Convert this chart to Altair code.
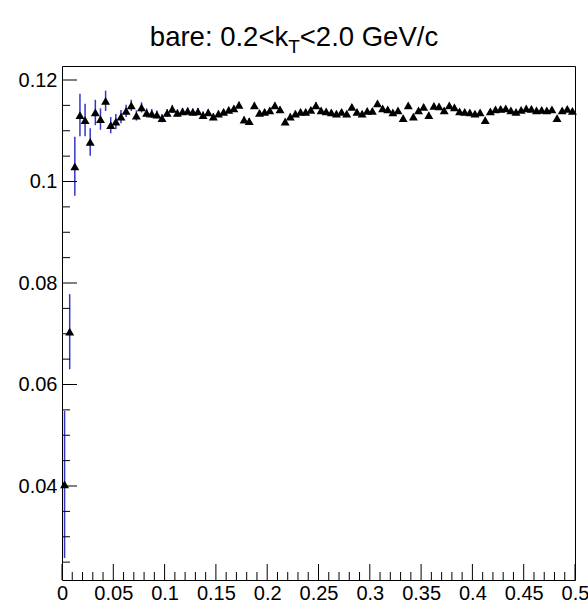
import altair as alt
import pandas as pd

# Histogram binning: 100 bins on [0, 0.5]
n_bins = 100
x_lo, x_hi = 0.0, 0.5
bin_width = (x_hi - x_lo) / n_bins
bin_center = [x_lo + (i + 0.5) * bin_width for i in range(n_bins)]

# Bin contents
value = [
    0.0403, 0.0704, 0.1030, 0.1131, 0.1121, 0.1078, 0.1136, 0.1123, 0.1159, 0.1111,
    0.1118, 0.1128, 0.1139, 0.1150, 0.1130, 0.1146, 0.1135, 0.1134, 0.1132, 0.1125,
    0.1135, 0.1143, 0.1135, 0.1138, 0.1139, 0.1137, 0.1138, 0.1131, 0.1136, 0.1128,
    0.1134, 0.1137, 0.1141, 0.1144, 0.1151, 0.1122, 0.1119, 0.1150, 0.1135, 0.1137,
    0.1140, 0.1150, 0.1142, 0.1118, 0.1128, 0.1134, 0.1137, 0.1137, 0.1141, 0.1150,
    0.1140, 0.1138, 0.1136, 0.1134, 0.1137, 0.1134, 0.1147, 0.1137, 0.1134, 0.1139,
    0.1139, 0.1154, 0.1144, 0.1142, 0.1136, 0.1140, 0.1125, 0.1150, 0.1128, 0.1140,
    0.1147, 0.1131, 0.1149, 0.1148, 0.1140, 0.1150, 0.1146, 0.1138, 0.1137, 0.1136,
    0.1134, 0.1136, 0.1121, 0.1138, 0.1142, 0.1143, 0.1144, 0.1140, 0.1137, 0.1141,
    0.1144, 0.1143, 0.1140, 0.1141, 0.1140, 0.1142, 0.1125, 0.1140, 0.1143, 0.1139,
]

# Bin errors
error = [
    0.0145, 0.0074, 0.0058, 0.0042, 0.0032, 0.0027, 0.0025, 0.0021, 0.0020, 0.0016,
    0.0015, 0.0013, 0.0012, 0.0011, 0.0010, 0.0010, 0.0009, 0.0009, 0.0008, 0.0008,
    0.0008, 0.0008, 0.0007, 0.0007, 0.0007, 0.0007, 0.0007, 0.0007, 0.0007, 0.0007,
    0.0006, 0.0006, 0.0006, 0.0006, 0.0006, 0.0006, 0.0006, 0.0006, 0.0006, 0.0006,
    0.0006, 0.0006, 0.0006, 0.0006, 0.0006, 0.0006, 0.0006, 0.0006, 0.0006, 0.0006,
    0.0005, 0.0005, 0.0005, 0.0005, 0.0005, 0.0005, 0.0005, 0.0005, 0.0005, 0.0005,
    0.0005, 0.0005, 0.0005, 0.0005, 0.0005, 0.0005, 0.0005, 0.0005, 0.0005, 0.0005,
    0.0005, 0.0005, 0.0005, 0.0005, 0.0005, 0.0005, 0.0005, 0.0005, 0.0005, 0.0005,
    0.0005, 0.0005, 0.0005, 0.0005, 0.0005, 0.0005, 0.0005, 0.0005, 0.0005, 0.0005,
    0.0005, 0.0005, 0.0005, 0.0005, 0.0005, 0.0005, 0.0005, 0.0005, 0.0005, 0.0005,
]

# Axis ticks (drawn inside the frame)
x_major = [0.0, 0.05, 0.1, 0.15, 0.2, 0.25, 0.3, 0.35, 0.4, 0.45, 0.5]
x_minor = [0.01, 0.02, 0.03, 0.04, 0.06, 0.07, 0.08, 0.09, 0.11, 0.12, 0.13, 0.14,
           0.16, 0.17, 0.18, 0.19, 0.21, 0.22, 0.23, 0.24, 0.26, 0.27, 0.28, 0.29,
           0.31, 0.32, 0.33, 0.34, 0.36, 0.37, 0.38, 0.39, 0.41, 0.42, 0.43, 0.44,
           0.46, 0.47, 0.48, 0.49]
y_major = [0.04, 0.06, 0.08, 0.10, 0.12]
y_minor = [0.025, 0.03, 0.035, 0.045, 0.05, 0.055, 0.065, 0.07, 0.075,
           0.085, 0.09, 0.095, 0.105, 0.11, 0.115]

x_range = [0.0, 0.5]
y_range = [0.02148, 0.12276]

W, H = 513, 514
FONT = "Liberation Sans"
ERR_COLOR = "#3535c8"

df = pd.DataFrame({"x": bin_center, "y": value, "err": error})
df["lo"] = df["y"] - df["err"]
df["hi"] = df["y"] + df["err"]

xs = alt.Scale(domain=x_range, nice=False, zero=False)
ys = alt.Scale(domain=y_range, nice=False, zero=False)

x_axis = alt.Axis(values=x_major, format=".2~f", ticks=False, domain=False, grid=False,
                  labelFont=FONT, labelFontSize=20, labelColor="black", labelPadding=3,
                  labelFlush=False, labelOverlap=False, title=None)
y_axis = alt.Axis(values=y_major, format=".2~f", ticks=False, domain=False, grid=False,
                  labelFont=FONT, labelFontSize=20, labelColor="black", labelPadding=5,
                  labelOverlap=False, title=None)

errbars = alt.Chart(df).mark_rule(color=ERR_COLOR, strokeWidth=1.5).encode(
    x=alt.X("x:Q", scale=xs, axis=x_axis),
    y=alt.Y("lo:Q", scale=ys, axis=y_axis),
    y2="hi:Q",
)

points = alt.Chart(df).mark_point(shape="triangle-up", filled=True, size=80,
                                  color="black", opacity=1).encode(
    x=alt.X("x:Q", scale=xs, axis=x_axis),
    y=alt.Y("y:Q", scale=ys, axis=y_axis),
)

def xticks(vals, length):
    return alt.Chart(pd.DataFrame({"x": vals})).mark_rule(color="black", strokeWidth=1).encode(
        x=alt.X("x:Q", scale=xs, axis=x_axis),
        y=alt.value(H),
        y2=alt.value(H - length),
    )

def yticks(vals, length):
    return alt.Chart(pd.DataFrame({"y": vals})).mark_rule(color="black", strokeWidth=1).encode(
        y=alt.Y("y:Q", scale=ys, axis=y_axis),
        x=alt.value(0),
        x2=alt.value(length),
    )

# Title with a subscript: main text, subscript "T", continuation
title_size = 27.5
sub_size = 19
cx = 232
title_y = -20
w_part = 5.031 * title_size
w_sub = 0.611 * sub_size
left = cx - (2 * w_part + w_sub) / 2
split = left + w_part

one = pd.DataFrame({"k": [0]})
t1 = alt.Chart(one).mark_text(font=FONT, fontSize=title_size, align="right",
                              baseline="alphabetic", color="black").encode(
    x=alt.value(split), y=alt.value(title_y), text=alt.value("bare: 0.2<k"))
t2 = alt.Chart(one).mark_text(font=FONT, fontSize=sub_size, align="left",
                              baseline="alphabetic", color="black").encode(
    x=alt.value(split), y=alt.value(title_y + 7), text=alt.value("T"))
t3 = alt.Chart(one).mark_text(font=FONT, fontSize=title_size, align="left",
                              baseline="alphabetic", color="black").encode(
    x=alt.value(split + w_sub), y=alt.value(title_y), text=alt.value("<2.0 GeV/c"))

chart = alt.layer(
    errbars, points,
    xticks(x_major, 16), xticks(x_minor, 8),
    yticks(y_major, 15), yticks(y_minor, 8),
    t1, t2, t3,
).properties(
    width=W, height=H,
    padding={"left": 62, "top": 66, "right": 13, "bottom": 24},
    autosize=alt.AutoSizeParams(type="none"),
    background="white",
).configure_view(stroke="black", strokeWidth=1)

chart.save("out.html", embed_options={"renderer": "svg", "actions": False})
